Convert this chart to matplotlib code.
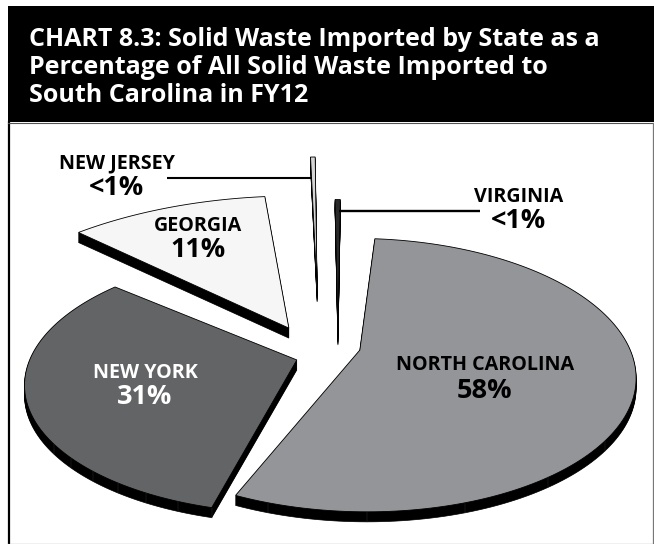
# plot.py
# Exploded, tilted pie of solid waste imported to South Carolina in FY12.
# Slices are projected by hand because ax.pie has no perspective.

import matplotlib
matplotlib.use("Agg")
import matplotlib.pyplot as plt
import numpy as np

TITLE_LINES = [
    "CHART 8.3: Solid Waste Imported by State as a",
    "Percentage of All Solid Waste Imported to",
    "South Carolina in FY12",
]

states = ["NORTH CAROLINA", "NEW YORK", "GEORGIA", "NEW JERSEY", "VIRGINIA"]
pct_labels = ["58%", "31%", "11%", "<1%", "<1%"]
# share of the disc as drawn (the printed labels round differently)
drawn_share = [55.2, 32.1, 11.3, 0.25, 0.3]

# slice styling and placement, disc units unless noted
start_deg = [5.0, 194.2, 312.8, 358.3, -0.2]
radius_x = [0.985, 0.96, 1.28, 1.48, 1.29]
radius_y = [0.975, 0.91, 1.28, 1.48, 1.29]
offset_x = [0.116, -0.112, -0.147, -0.043, 0.037]
offset_y = [-0.03, -0.102, 0.137, 0.436, 0.083]
face_colors = ["#939598", "#636466", "#f6f6f6", "#d4d4d4", "#2a2a2a"]
label_colors = ["black", "white", "black", "black", "black"]
wall_lines = [14, 9, 0, 0, 0]  # samples between facet lines on the side wall

# text anchor pixels: name y, percent y, centre x
label_x = [485, 145, 198, 117, 519]
name_y = [365, 373, 226, 163, 197]
pct_y = [391, 397, 250, 188, 221]

# camera
CX, CY = 328.0, 346.0
RX, RY = 273.0, 134.0
PERSP = 0.187
DEPTH_PX = 10


def project(x, y):
    w = 1 + PERSP * y
    return CX + RX * x / w, CY - RY * y / w


def slice_outline(i):
    start = np.radians(start_deg[i])
    sweep = np.radians(drawn_share[i] * 3.6)
    t = np.linspace(start, start + sweep, 160)
    x = offset_x[i] + radius_x[i] * np.sin(t)
    y = offset_y[i] + radius_y[i] * np.cos(t)
    x = np.r_[offset_x[i], x]
    y = np.r_[offset_y[i], y]
    return project(x, y)


fig = plt.figure(figsize=(6.54, 5.44), dpi=100)
ax = fig.add_axes([0, 0, 1, 1])
ax.set_xlim(0, 654)
ax.set_ylim(544, 0)
ax.axis("off")

# header bar and frame
ax.fill_between([7.5, 654], 5.5, 122, color="black", lw=0)
ax.plot([8.5, 8.5], [122, 544], color="black", lw=1.6)
ax.plot([8, 654], [123, 123], color="#555555", lw=0.8)
ax.plot([8, 654], [543.5, 543.5], color="#8a8a8a", lw=0.9)
ax.plot([653, 653], [123, 544], color="#777777", lw=0.9)

for line, y in zip(TITLE_LINES, [37, 65, 93]):
    ax.text(29, y, line, color="white", fontsize=18, fontweight="bold",
            ha="left", va="center_baseline", family="Open Sans")

for i in range(len(states)):
    sx, sy = slice_outline(i)
    # side wall: stacked black copies pushed down the page
    for d in np.arange(1, DEPTH_PX + 0.5):
        ax.fill(sx, sy + d, color="black", lw=0.5)
    if wall_lines[i]:
        for k in range(1, len(sx), wall_lines[i]):
            if sy[k] > 440:
                ax.plot([sx[k], sx[k]], [sy[k], sy[k] + DEPTH_PX],
                        color="#333333", lw=0.3)
    ax.fill(sx, sy, facecolor=face_colors[i], edgecolor="black", lw=0.6)

# leader lines to the two slivers
ax.plot([167, 312], [178, 178], color="black", lw=1.5, solid_capstyle="butt")
ax.plot([339, 480], [211, 211], color="black", lw=1.7, solid_capstyle="butt")

for i, state in enumerate(states):
    ax.text(label_x[i], name_y[i], state, color=label_colors[i], fontsize=14.2,
            fontweight="bold", ha="center", va="center", family="Open Sans")
    ax.text(label_x[i], pct_y[i], pct_labels[i], color=label_colors[i], fontsize=19.5,
            fontweight="bold", ha="center", va="center", family="Open Sans")

fig.savefig("out.png", dpi=100)
plt.close(fig)
